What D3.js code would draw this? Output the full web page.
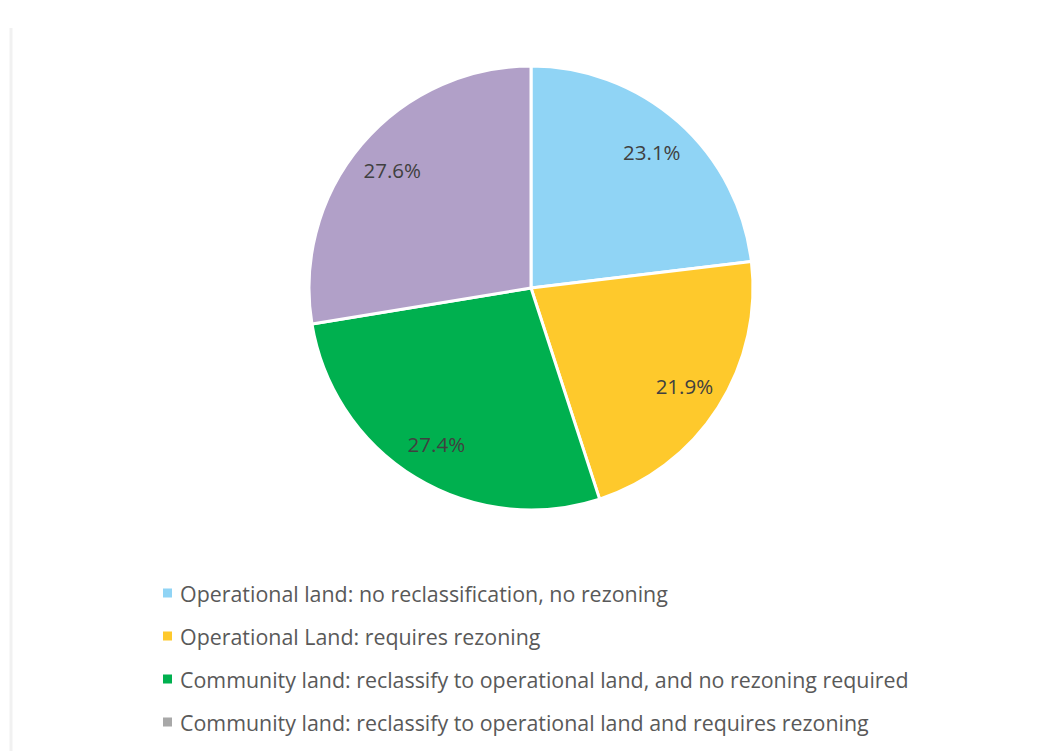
<!DOCTYPE html>
<html>
<head>
<meta charset="utf-8">
<script src="https://cdn.jsdelivr.net/npm/d3@7"></script>
<style>
  html, body { margin: 0; padding: 0; background: #ffffff; }
  svg { display: block; }
</style>
</head>
<body>
<svg id="chart" width="1045" height="751"></svg>
<script>
// Land categories and their share of the total (%)
const categories = [
  "Operational land: no reclassification, no rezoning",
  "Operational Land: requires rezoning",
  "Community land: reclassify to operational land, and no rezoning required",
  "Community land: reclassify to operational land and requires rezoning"
];
const shares = [23.1, 21.9, 27.4, 27.6];
const sliceColors = ["#90d4f5", "#fec92c", "#00b04f", "#b1a0c8"];
const legendColors = ["#90d4f5", "#fec92c", "#00b04f", "#a8a8a8"];

const svg = d3.select("#chart");
const W = 1045, H = 751;

// faint frame edge on the left
svg.append("line")
  .attr("x1", 11).attr("x2", 11).attr("y1", 28).attr("y2", H)
  .attr("stroke", "#f1f1f1").attr("stroke-width", 3);

const cx = 531, cy = 288, R = 222;
const data = categories.map((c, i) => ({ name: c, value: shares[i], i }));

const pie = d3.pie().value(d => d.value).sort(null);
const arc = d3.arc().innerRadius(0).outerRadius(R);
const labelArc = d3.arc().innerRadius(R * 0.82).outerRadius(R * 0.82);

const g = svg.append("g").attr("transform", `translate(${cx},${cy})`);
const arcs = pie(data);

g.selectAll("path.slice")
  .data(arcs)
  .join("path")
  .attr("class", "slice")
  .attr("d", arc)
  .attr("fill", d => sliceColors[d.data.i])
  .attr("stroke", "#ffffff")
  .attr("stroke-width", 3)
  .attr("stroke-linejoin", "round");

g.selectAll("text.pct")
  .data(arcs)
  .join("text")
  .attr("class", "pct")
  .attr("transform", d => `translate(${labelArc.centroid(d)})`)
  .attr("text-anchor", "middle")
  .attr("dominant-baseline", "central")
  .attr("font-family", "'Open Sans', 'Noto Sans', sans-serif")
  .attr("font-size", 20.5)
  .attr("fill", "#404040")
  .text(d => d3.format(".1f")(d.data.value) + "%");

// legend
const legend = svg.append("g").attr("transform", "translate(163,593)");
const rowH = 43;
const rows = legend.selectAll("g.row")
  .data(data)
  .join("g")
  .attr("class", "row")
  .attr("transform", (d, i) => `translate(0,${i * rowH})`);

rows.append("rect")
  .attr("x", 0).attr("y", -4.5)
  .attr("width", 9).attr("height", 9)
  .attr("fill", d => legendColors[d.i]);

rows.append("text")
  .attr("x", 17).attr("y", 0)
  .attr("dominant-baseline", "central")
  .attr("font-family", "'Open Sans', 'Noto Sans', sans-serif")
  .attr("font-size", 21.4)
  .attr("fill", "#595959")
  .text(d => d.name);
</script>
</body>
</html>
